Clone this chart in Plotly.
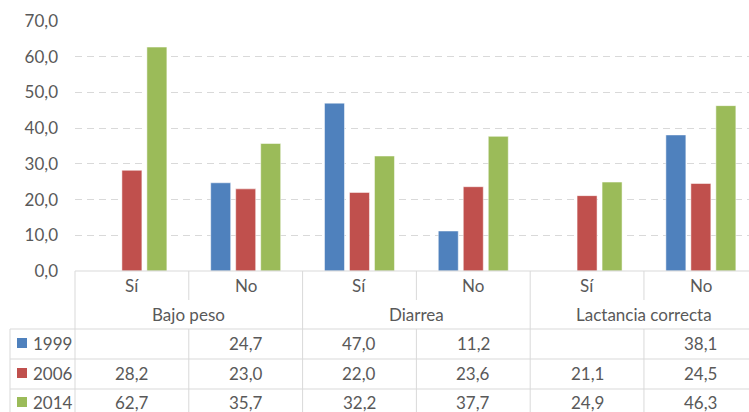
import plotly.graph_objects as go

groups = ["Bajo peso", "Diarrea", "Lactancia correcta"]
subcats = ["Sí", "No", "Sí", "No", "Sí", "No"]
years = ["1999", "2006", "2014"]
v1999 = [None, 24.7, 47.0, 11.2, None, 38.1]
v2006 = [28.2, 23.0, 22.0, 23.6, 21.1, 24.5]
v2014 = [62.7, 35.7, 32.2, 37.7, 24.9, 46.3]
yticks = [0, 10, 20, 30, 40, 50, 60, 70]

series = [v1999, v2006, v2014]
colors = ["#4F81BD", "#C0504D", "#9BBB59"]

W, H = 749, 412
ML, MT, PH = 75, 21, 250
MB = H - MT - PH
XMIN, XMAX = -0.5, 5.423
TXT = "#595959"
LINE = "#D9D9D9"
FONT = "Lato"
FS = 17

def px_x(xd):
    return (xd - XMIN) / (XMAX - XMIN)

def py(ypx):
    return (MT + PH - ypx) / PH

def ppx(xpx):
    return (xpx - ML) / (W - ML)

xs = list(range(len(subcats)))
fig = go.Figure()
for name, vals, c in zip(years, series, colors):
    fig.add_trace(go.Bar(x=xs, y=vals, name=name,
                         marker=dict(color=c, line=dict(color="rgba(255,255,255,0.5)", width=1)),
                         showlegend=False))

shapes = []
def hline(y, x0, x1):
    shapes.append(dict(type="line", xref="paper", yref="paper", x0=x0, x1=x1, y0=y, y1=y,
                       line=dict(color=LINE, width=1)))
def vline(x, y0, y1):
    shapes.append(dict(type="line", xref="paper", yref="paper", x0=x, x1=x, y0=y0, y1=y1,
                       line=dict(color=LINE, width=1)))

ybot = py(425)
hline(0, 0, 1)
for ypx in [329, 359, 389]:
    hline(py(ypx), ppx(10), 1)
vline(ppx(10), py(329), ybot)
vline(0, 0, ybot)
for k in range(len(subcats) - 1):
    xb = px_x(k + 0.5)
    if k % 2 == 1:
        vline(xb, 0, ybot)
    else:
        vline(xb, 0, py(300))
        vline(xb, py(329), ybot)

annotations = []
def ann(x, y, text, xanchor="center"):
    annotations.append(dict(xref="paper", yref="paper", x=x, y=y, text=text, showarrow=False,
                            xanchor=xanchor, yanchor="middle",
                            font=dict(family=FONT, size=FS, color=TXT)))

for i, s in enumerate(subcats):
    ann(px_x(i), py(285), s)
for g, name in enumerate(groups):
    ann(px_x(2 * g + 0.5), py(314), name)

row_y = [343, 373, 402]
for r, (name, vals, c) in enumerate(zip(years, series, colors)):
    yy = py(row_y[r])
    shapes.append(dict(type="rect", xref="paper", yref="paper", x0=ppx(17), x1=ppx(27),
                       y0=yy - 5 / PH, y1=yy + 5 / PH, fillcolor=c, line=dict(width=0)))
    ann(ppx(31), yy, name, xanchor="left")
    for i, v in enumerate(vals):
        if v is not None:
            ann(px_x(i), yy, f"{v:.1f}".replace(".", ","))

fig.update_layout(
    width=W, height=H,
    margin=dict(l=ML, r=0, t=MT, b=MB, pad=0),
    paper_bgcolor="white", plot_bgcolor="white",
    barmode="group", bargap=0.341, bargroupgap=0.2,
    separators=",.",
    font=dict(family=FONT, size=FS, color=TXT),
    shapes=shapes, annotations=annotations,
    xaxis=dict(range=[XMIN, XMAX], showticklabels=False, showgrid=False, zeroline=False,
               showline=False, fixedrange=True),
    yaxis=dict(range=[0, 70], tickvals=yticks, tickformat=".1f", showgrid=True, gridcolor=LINE,
               griddash="7px,5px", gridwidth=1, zeroline=False, showline=False, fixedrange=True,
               ticklabelstandoff=16, tickfont=dict(family=FONT, size=FS, color=TXT)),
)
fig.write_html("out.html", config={"displayModeBar": False},
               post_script="document.body.style.margin='0';document.body.style.overflow='hidden';")
